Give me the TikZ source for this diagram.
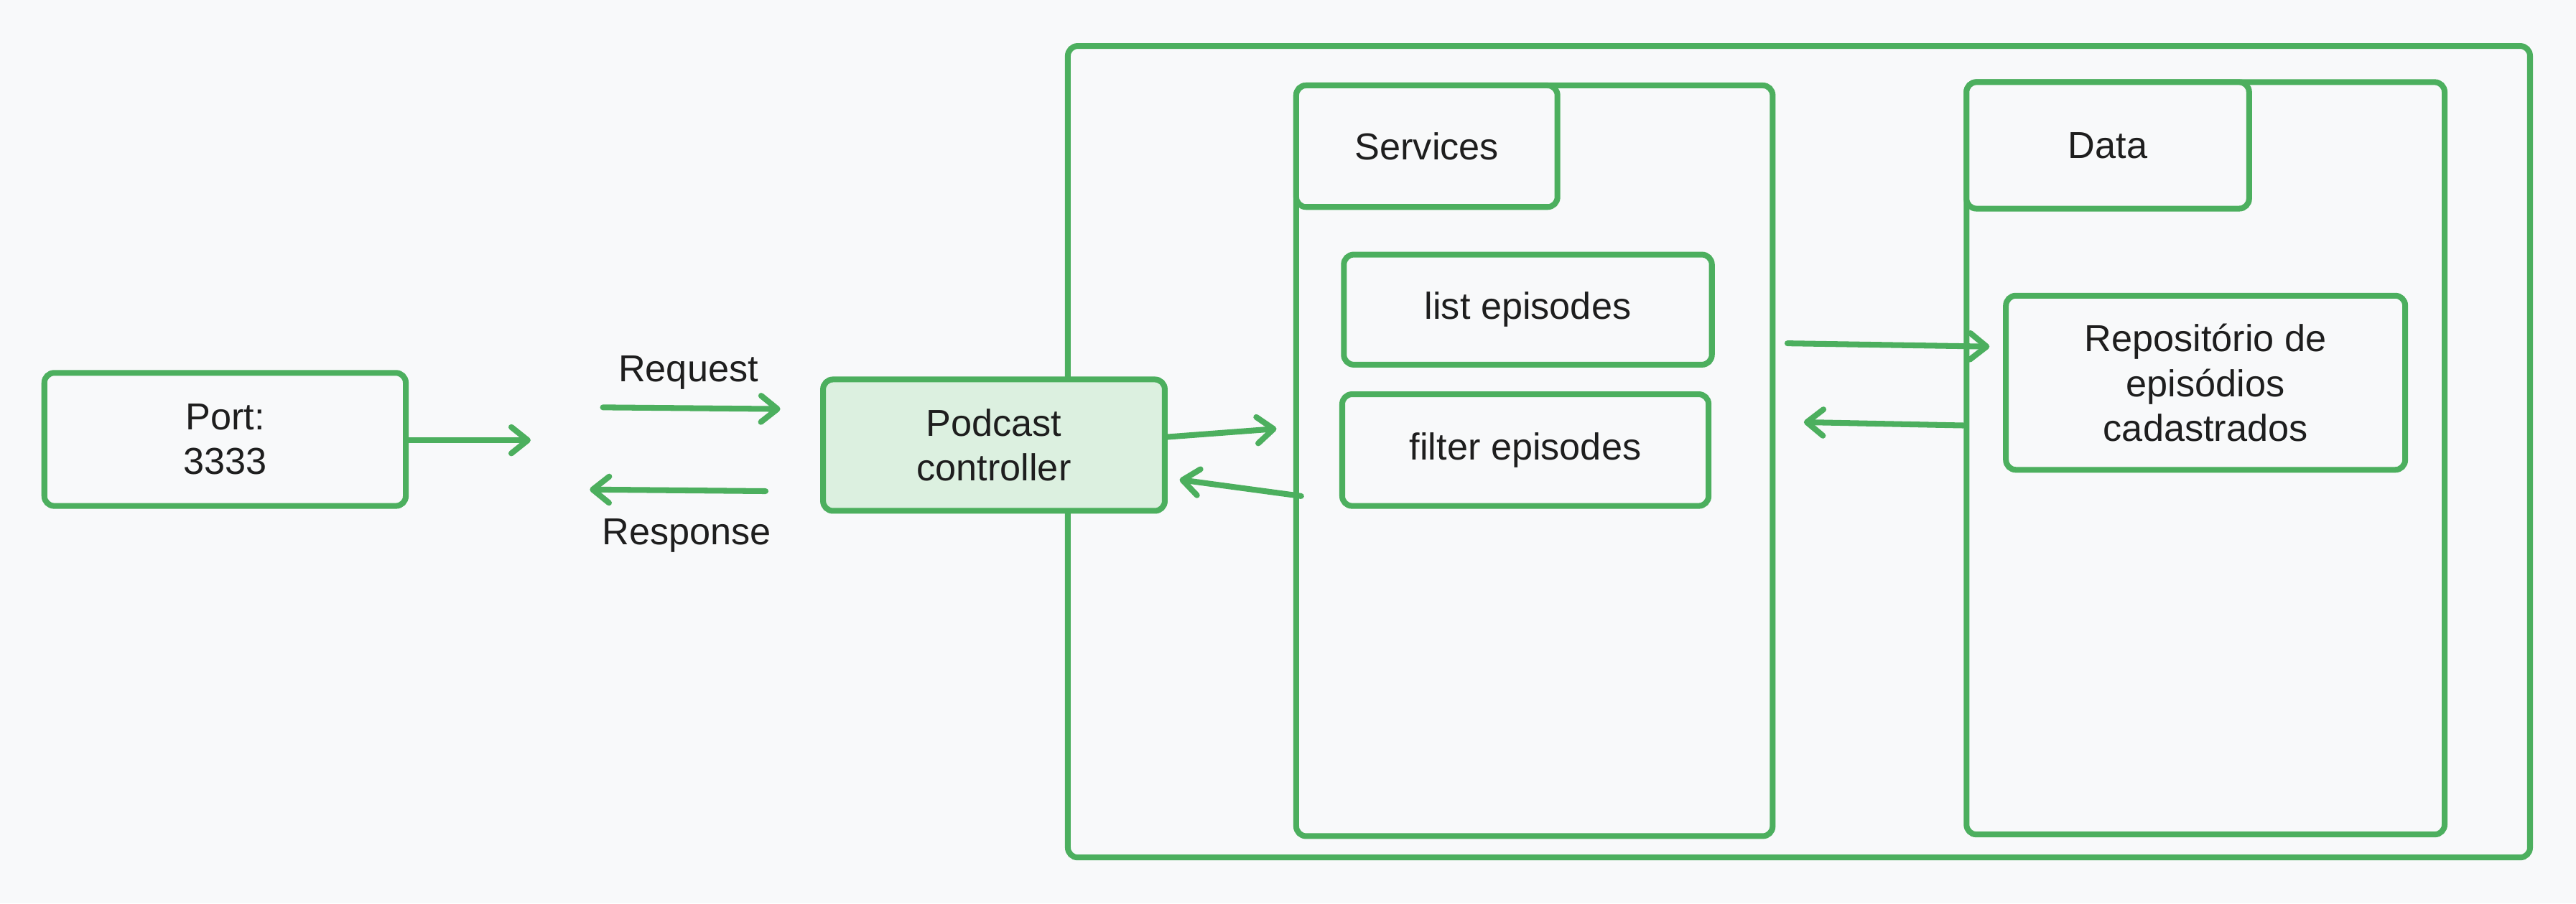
\documentclass[tikz,border=0pt]{standalone}
\usepackage{fontspec}
\setmainfont{Liberation Sans}
\usetikzlibrary{arrows.meta}
\definecolor{bg}{HTML}{F8F9FA}
\definecolor{grn}{HTML}{4CAF5E}
\definecolor{lgrn}{HTML}{DCF0E0}
\definecolor{ink}{HTML}{1E1E1E}
\tikzset{
  box/.style={draw=grn, line width=2pt, fill=bg, rounded corners=1.2mm, inner sep=0pt, align=center, text=ink, font=\fontsize{13}{15.5}\selectfont},
  lbl/.style={text=ink, inner sep=0pt, font=\fontsize{13}{15.5}\selectfont},
  conn/.style={draw=grn, line width=2pt, line cap=round, -{Straight Barb[length=2mm,width=3.2mm,line cap=round,round]}},
}
\begin{document}
\begin{tikzpicture}[x=0.2mm, y=-0.2mm]
\fill[bg] (0,0) rectangle (1568,550);
\useasboundingbox (0,0) rectangle (1568,550);
% outer frame
\node[box, minimum width=178mm, minimum height=98.8mm] (outer) at (1095,275) {};
% services
\node[box, minimum width=58mm, minimum height=91.4mm] (svc) at (934,280.5) {};
\node[box, minimum width=31.8mm, minimum height=14.8mm] (svch) at (868.5,89) {Services};
\node[box, minimum width=44.8mm, minimum height=13.4mm] (list) at (930,188.5) {list episodes};
\node[box, minimum width=44.6mm, minimum height=13.6mm] (filter) at (928.5,274) {filter episodes};
% data
\node[box, minimum width=58.2mm, minimum height=91.6mm] (data) at (1342.5,279) {};
\node[box, minimum width=34.4mm, minimum height=15.4mm] (datah) at (1283,88.5) {Data};
\node[box, minimum width=48.6mm, minimum height=21.2mm] (repo) at (1342.5,233) {Repositório de\\episódios\\cadastrados};
% port and controller
\node[box, minimum width=44mm, minimum height=16.2mm] (port) at (137,267.5) {Port:\\3333};
\node[box, fill=lgrn, minimum width=41.6mm, minimum height=16mm] (ctrl) at (605,271) {Podcast\\controller};
% labels
\node[lbl] (req) at (419,227) {Request};
\node[lbl] (resp) at (418,326) {Response};
% free ends
\coordinate (p1) at (323,268);
\coordinate (r1) at (367,248);
\coordinate (r2) at (475,249);
\coordinate (s1) at (466,299);
\coordinate (s2) at (359,298);
\coordinate (c1) at (777,261);
\coordinate (c2) at (792,302);
\coordinate (c3) at (718,292);
\coordinate (d1) at (1088,209);
\coordinate (d2) at (1211,211);
\coordinate (d3) at (1195,259);
\coordinate (d4) at (1098,257);
% connectors
\draw[conn] (port.east |- p1) -- (p1);
\draw[conn] (r1) -- (r2);
\draw[conn] (s1) -- (s2);
\draw[conn] (ctrl.east |- 0,266) -- (c1);
\draw[conn] (c2) -- (c3);
\draw[conn] (d1) -- (d2);
\draw[conn] (d3) -- (d4);
\end{tikzpicture}
\end{document}
